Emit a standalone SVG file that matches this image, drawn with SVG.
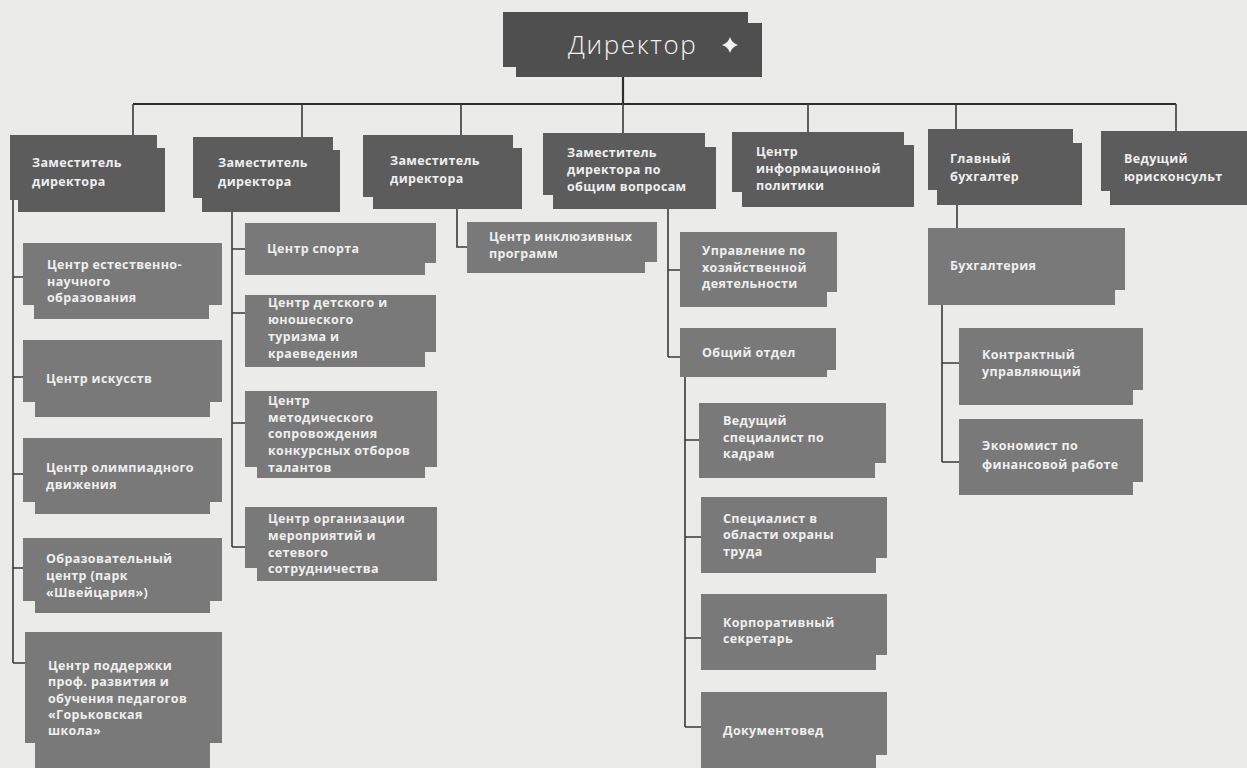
<svg xmlns="http://www.w3.org/2000/svg" width="1247" height="768" viewBox="0 0 1247 768">
<style>
.bg{fill:#ebebea}
.d rect{fill:#4f4f4f}
.l1 rect{fill:#5c5c5c}
.l2 rect{fill:#797979}
.t{font-family:"Open Sans","Liberation Sans",sans-serif;font-size:12.5px;font-weight:700;fill:#efefef;letter-spacing:0.35px}
.dt{font-family:"Open Sans","Liberation Sans",sans-serif;font-size:26px;font-weight:300;fill:#f2f2f2;letter-spacing:1.6px}
.c path{fill:none;stroke:#3a3a3a;stroke-width:1.6}
.c .m{stroke-width:2.2;stroke:#2e2e2e}
</style>
<rect class="bg" x="0" y="0" width="1247" height="768"/>

<g id="connectors" class="c">
<path class="m" d="M133 104 H1176"/>
<path class="m" d="M623 77 V104"/>
<path d="M133 104 V135 M302 104 V137 M461 104 V135 M623 104 V133 M808 104 V132 M956 104 V129 M1176 104 V131"/>
<path d="M13 200 V663 M13 277 H23 M13 377 H23 M13 474 H23 M13 568 H23 M13 663 H25"/>
<path d="M232 212 V547 M232 249 H245 M232 313 H245 M232 423 H245 M232 547 H245"/>
<path d="M457 209 V247 H467"/>
<path d="M668 209 V357 M668 270 H680 M668 357 H680"/>
<path d="M685 377 V727 M685 440 H699 M685 537 H701 M685 638 H701 M685 727 H701"/>
<path d="M957 205 V228"/>
<path d="M942 305 V462 M942 363 H959 M942 462 H959"/>
</g>

<g id="director" class="d">
<rect x="503" y="12" width="245" height="55"/>
<rect x="516" y="23" width="246" height="54"/>
<text class="dt" x="568" y="54">Директор</text>
<path d="M730 37 Q731.8 43.2 738 45 Q731.8 46.8 730 53 Q728.2 46.8 722 45 Q728.2 43.2 730 37 Z" fill="#f2f2f2"/>
</g>

<g id="dep1" class="l1">
<rect x="10" y="135" width="147" height="65"/>
<rect x="18" y="148" width="147" height="64"/>
<text class="t"><tspan x="32" y="167">Заместитель</tspan><tspan x="32" y="186">директора</tspan></text>
</g>
<g id="dep2" class="l1">
<rect x="193" y="137" width="140" height="61"/>
<rect x="202" y="150" width="138" height="62"/>
<text class="t"><tspan x="218" y="167">Заместитель</tspan><tspan x="218" y="186">директора</tspan></text>
</g>
<g id="dep3" class="l1">
<rect x="363" y="135" width="150" height="62"/>
<rect x="373" y="148" width="149" height="61"/>
<text class="t"><tspan x="390" y="165">Заместитель</tspan><tspan x="390" y="183">директора</tspan></text>
</g>
<g id="dep4" class="l1">
<rect x="543" y="133" width="162" height="62"/>
<rect x="553" y="147" width="163" height="62"/>
<text class="t"><tspan x="567" y="157">Заместитель</tspan><tspan x="567" y="174">директора по</tspan><tspan x="567" y="191">общим вопросам</tspan></text>
</g>
<g id="dep5" class="l1">
<rect x="732" y="132" width="172" height="60"/>
<rect x="742" y="145" width="172" height="62"/>
<text class="t"><tspan x="756" y="156">Центр</tspan><tspan x="756" y="173">информационной</tspan><tspan x="756" y="190">политики</tspan></text>
</g>
<g id="dep6" class="l1">
<rect x="928" y="129" width="145" height="61"/>
<rect x="937" y="143" width="145" height="62"/>
<text class="t"><tspan x="950" y="163">Главный</tspan><tspan x="950" y="181">бухгалтер</tspan></text>
</g>
<g id="dep7" class="l1">
<rect x="1101" y="131" width="146" height="60"/>
<rect x="1110" y="144" width="137" height="61"/>
<text class="t"><tspan x="1124" y="163">Ведущий</tspan><tspan x="1124" y="181">юрисконсульт</tspan></text>
</g>

<g id="c1a" class="l2">
<rect x="23" y="243" width="199" height="62"/>
<rect x="34" y="290" width="175" height="29"/>
<text class="t"><tspan x="47" y="269">Центр естественно-</tspan><tspan x="47" y="286">научного</tspan><tspan x="47" y="302">образования</tspan></text>
</g>
<g id="c1b" class="l2">
<rect x="23" y="340" width="199" height="62"/>
<rect x="35" y="390" width="175" height="27"/>
<text class="t" x="46" y="383">Центр искусств</text>
</g>
<g id="c1c" class="l2">
<rect x="23" y="438" width="199" height="64"/>
<rect x="35" y="490" width="175" height="24"/>
<text class="t"><tspan x="46" y="472">Центр олимпиадного</tspan><tspan x="46" y="489">движения</tspan></text>
</g>
<g id="c1d" class="l2">
<rect x="23" y="538" width="199" height="63"/>
<rect x="35" y="590" width="175" height="23"/>
<text class="t"><tspan x="46" y="563">Образовательный</tspan><tspan x="46" y="580">центр (парк</tspan><tspan x="46" y="597">«Швейцария»)</tspan></text>
</g>
<g id="c1e" class="l2">
<rect x="25" y="632" width="197" height="111"/>
<rect x="35" y="700" width="175" height="68"/>
<text class="t"><tspan x="48" y="670">Центр поддержки</tspan><tspan x="48" y="686">проф. развития и</tspan><tspan x="48" y="703">обучения педагогов</tspan><tspan x="48" y="719">«Горьковская</tspan><tspan x="48" y="735">школа»</tspan></text>
</g>

<g id="c2a" class="l2">
<rect x="245" y="223" width="191" height="40"/>
<rect x="245" y="255" width="180" height="20"/>
<text class="t" x="267" y="253">Центр спорта</text>
</g>
<g id="c2b" class="l2">
<rect x="245" y="295" width="191" height="57"/>
<rect x="245" y="340" width="180" height="27"/>
<text class="t"><tspan x="268" y="307">Центр детского и</tspan><tspan x="268" y="324">юношеского</tspan><tspan x="268" y="341">туризма и</tspan><tspan x="268" y="358">краеведения</tspan></text>
</g>
<g id="c2c" class="l2">
<rect x="245" y="391" width="192" height="76"/>
<rect x="257" y="455" width="168" height="23"/>
<text class="t"><tspan x="268" y="405">Центр</tspan><tspan x="268" y="422">методического</tspan><tspan x="268" y="438">сопровождения</tspan><tspan x="268" y="455">конкурсных отборов</tspan><tspan x="268" y="472">талантов</tspan></text>
</g>
<g id="c2d" class="l2">
<rect x="245" y="507" width="192" height="61"/>
<rect x="257" y="560" width="180" height="21"/>
<text class="t"><tspan x="268" y="523">Центр организации</tspan><tspan x="268" y="540">мероприятий и</tspan><tspan x="268" y="557">сетевого</tspan><tspan x="268" y="573">сотрудничества</tspan></text>
</g>

<g id="c3a" class="l2">
<rect x="467" y="222" width="190" height="40"/>
<rect x="467" y="255" width="178" height="18"/>
<text class="t"><tspan x="489" y="241">Центр инклюзивных</tspan><tspan x="489" y="258">программ</tspan></text>
</g>

<g id="c4a" class="l2">
<rect x="680" y="232" width="157" height="60"/>
<rect x="680" y="285" width="147" height="22"/>
<text class="t"><tspan x="702" y="255">Управление по</tspan><tspan x="702" y="272">хозяйственной</tspan><tspan x="702" y="288">деятельности</tspan></text>
</g>
<g id="c4b" class="l2">
<rect x="680" y="328" width="156" height="42"/>
<rect x="680" y="360" width="147" height="17"/>
<text class="t" x="702" y="357">Общий отдел</text>
</g>
<g id="c4b1" class="l2">
<rect x="699" y="403" width="187" height="60"/>
<rect x="699" y="455" width="176" height="23"/>
<text class="t"><tspan x="723" y="425">Ведущий</tspan><tspan x="723" y="442">специалист по</tspan><tspan x="723" y="458">кадрам</tspan></text>
</g>
<g id="c4b2" class="l2">
<rect x="701" y="497" width="186" height="61"/>
<rect x="701" y="550" width="175" height="23"/>
<text class="t"><tspan x="723" y="523">Специалист в</tspan><tspan x="723" y="539">области охраны</tspan><tspan x="723" y="556">труда</tspan></text>
</g>
<g id="c4b3" class="l2">
<rect x="701" y="594" width="186" height="61"/>
<rect x="701" y="648" width="175" height="22"/>
<text class="t"><tspan x="723" y="627">Корпоративный</tspan><tspan x="723" y="643">секретарь</tspan></text>
</g>
<g id="c4b4" class="l2">
<rect x="701" y="692" width="186" height="63"/>
<rect x="701" y="745" width="175" height="23"/>
<text class="t" x="723" y="735">Документовед</text>
</g>

<g id="c6a" class="l2">
<rect x="928" y="228" width="197" height="62"/>
<rect x="928" y="282" width="187" height="23"/>
<text class="t" x="950" y="270">Бухгалтерия</text>
</g>
<g id="c6a1" class="l2">
<rect x="959" y="328" width="184" height="62"/>
<rect x="959" y="382" width="174" height="23"/>
<text class="t"><tspan x="982" y="359">Контрактный</tspan><tspan x="982" y="376">управляющий</tspan></text>
</g>
<g id="c6a2" class="l2">
<rect x="959" y="419" width="184" height="63"/>
<rect x="959" y="475" width="174" height="20"/>
<text class="t"><tspan x="982" y="450">Экономист по</tspan><tspan x="982" y="469">финансовой работе</tspan></text>
</g>
</svg>
